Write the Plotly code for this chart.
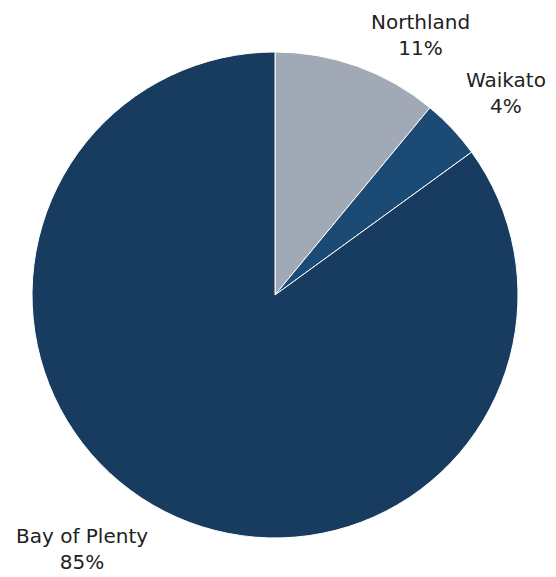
import plotly.graph_objects as go

regions = ["Northland", "Waikato", "Bay of Plenty"]
shares = [11, 4, 85]
colors = ["#a2a9b6", "#1b4a75", "#173c5f"]

# label anchor positions (paper coordinates)
label_x = [0.7428, 0.8957, 0.1331]
label_y = [0.9530, 0.8527, 0.0624]

fig = go.Figure(go.Pie(
    labels=regions,
    values=shares,
    sort=False,
    direction="clockwise",
    rotation=0,
    marker=dict(colors=colors, line=dict(color="white", width=1)),
    textinfo="none",
    hoverinfo="label+percent",
    showlegend=False,
    domain=dict(x=[0.0432, 0.9173], y=[0.0815, 0.9238]),
))

for name, val, lx, ly in zip(regions, shares, label_x, label_y):
    fig.add_annotation(
        x=lx, y=ly, xref="paper", yref="paper",
        text=f"{name}<br>{val}%",
        showarrow=False, xanchor="center", yanchor="middle",
        font=dict(family="DejaVu Sans", size=20, color="#222222"),
    )

fig.update_layout(
    width=556, height=577,
    margin=dict(l=0, r=0, t=0, b=0),
    paper_bgcolor="white",
    plot_bgcolor="white",
)

fig.write_html("out.html")
